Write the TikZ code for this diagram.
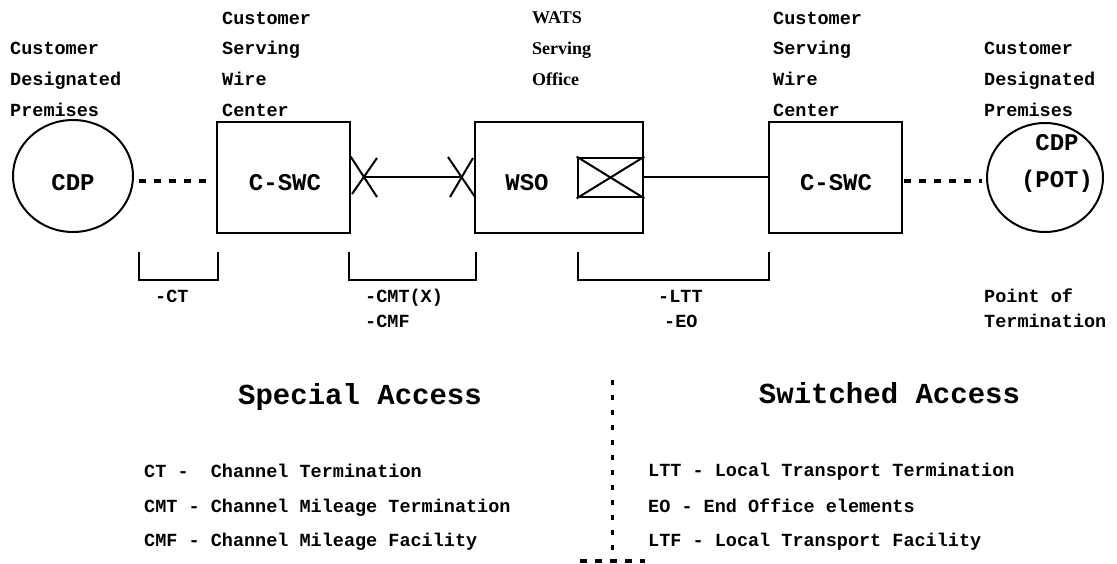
\documentclass[tikz,border=0pt]{standalone}
\usepackage{fontspec}
\newfontfamily\monof{Liberation Mono}
\newfontfamily\timesf{Liberation Serif}
\usetikzlibrary{shapes.geometric}
\begin{document}
\begin{tikzpicture}[x=1pt,y=-1pt,
  lbl/.style={font=\monof\bfseries\fontsize{18.5}{22}\selectfont, inner sep=0pt, anchor=base west},
  wats/.style={font=\timesf\bfseries\fontsize{18}{22}\selectfont, inner sep=0pt, anchor=base west},
  boxtxt/.style={font=\monof\bfseries\fontsize{24}{28}\selectfont, inner sep=0pt, anchor=base},
  head/.style={font=\monof\bfseries\fontsize{29}{34}\selectfont, inner sep=0pt, anchor=base},
  box/.style={draw, line width=2.7pt, minimum height=111pt, inner sep=0pt},
  cdp/.style={draw, ellipse, line width=2pt, inner sep=0pt},
  conn/.style={line width=2pt},
  xmark/.style={line width=2pt},
  dotline/.style={line width=3.5pt, dash pattern=on 7pt off 8pt},
  vdot/.style={line width=3pt, dash pattern=on 5pt off 10pt},
  brk/.style={line width=2.5pt}
]
\useasboundingbox (0,0) rectangle (1117,564);

% shapes
\node[cdp, minimum width=120pt, minimum height=112pt] (cdpL) at (73,176) {};
\node[box, minimum width=133pt] (swcL) at (283.5,177.5) {};
\node[box, minimum width=168pt] (wso) at (559,177.5) {};
\node[box, minimum width=133pt] (swcR) at (835.5,177.5) {};
\node[cdp, minimum width=116pt, minimum height=109pt] (cdpR) at (1045,177.5) {};
\node[draw, line width=2.7pt, minimum width=65pt, minimum height=39pt, inner sep=0pt] (xbox) at (610.5,177.5) {};

% texts in shapes
\node[boxtxt] (tcdpL) at (73,191) {CDP};
\node[boxtxt] (tswcL) at (285,191) {C-SWC};
\node[boxtxt] (twso) at (527,191) {WSO};
\node[boxtxt] (tswcR) at (836,191) {C-SWC};
\node[boxtxt] (tcdpR) at (1057,151) {CDP};
\node[boxtxt] (tpot) at (1057,188) {(POT)};

% crossed box
\draw[xmark] (xbox.north west) -- (xbox.south east);
\draw[xmark] (xbox.south west) -- (xbox.north east);

% X marks and connector
\coordinate (xl) at (364,177);
\coordinate (xr) at (462,177);
\draw[conn] (xl) -- (xr);
\draw[xmark] (350.7,156.7) -- (377,197);
\draw[xmark] (377,158) -- (352,194);
\draw[xmark] (448,157) -- (475,197);
\draw[xmark] (473,158) -- (450,197);

% connectors
\draw[conn] (xbox.east) -- (swcR.west);
\draw[dotline] ([xshift=5pt,yshift=-5pt]cdpL.east) -- ([xshift=-10pt,yshift=-3.5pt]swcL.west);
\draw[dotline] ([xshift=1pt,yshift=-3.5pt]swcR.east) -- ([xshift=-4pt,yshift=-3.5pt]cdpR.west);

% top labels
\node[lbl] (c1a) at (10,55) {Customer};
\node[lbl] (c1b) at (10,86) {Designated};
\node[lbl] (c1c) at (10,117) {Premises};
\node[lbl] (c2a) at (222,25) {Customer};
\node[lbl] (c2b) at (222,55) {Serving};
\node[lbl] (c2c) at (222,86) {Wire};
\node[lbl] (c2d) at (222,117) {Center};
\node[wats] (c3a) at (532,24) {WATS};
\node[wats] (c3b) at (532,55) {Serving};
\node[wats] (c3c) at (532,86) {Office};
\node[lbl] (c4a) at (773,25) {Customer};
\node[lbl] (c4b) at (773,55) {Serving};
\node[lbl] (c4c) at (773,86) {Wire};
\node[lbl] (c4d) at (773,117) {Center};
\node[lbl] (c5a) at (984,55) {Customer};
\node[lbl] (c5b) at (984,86) {Designated};
\node[lbl] (c5c) at (984,117) {Premises};

% brackets
\draw[brk] (139,252) -- (139,280) -- (218,280) -- (218,252);
\draw[brk] (349,252) -- (349,280) -- (476,280) -- (476,252);
\draw[brk] (578,252) -- (578,280) -- (769,280) -- (769,252);

% bracket labels
\node[lbl] (bct) at (155,302) {-CT};
\node[lbl] (bcmt) at (365,302) {-CMT(X)};
\node[lbl] (bcmf) at (365,327) {-CMF};
\node[lbl] (bltt) at (658,302) {-LTT};
\node[lbl] (beo) at (664,327) {-EO};
\node[lbl] (pot1) at (984,302) {Point of};
\node[lbl] (pot2) at (984,327) {Termination};

% headings
\node[head] (hsa) at (360,404) {Special Access};
\node[head] (hsw) at (889.5,403) {Switched Access};

% divider
\coordinate (dv1) at (612,380);
\coordinate (dv2) at (612,556);
\coordinate (dh1) at (580,561);
\coordinate (dh2) at (645,561);
\draw[vdot] (dv1) -- (dv2);
\draw[dotline] (dh1) -- (dh2);

% lists
\node[lbl] (l1) at (144,477) {CT -\ \ Channel Termination};
\node[lbl] (l2) at (144,512) {CMT - Channel Mileage Termination};
\node[lbl] (l3) at (144,546) {CMF - Channel Mileage Facility};
\node[lbl] (r1) at (648,476) {LTT - Local Transport Termination};
\node[lbl] (r2) at (648,512) {EO - End Office elements};
\node[lbl] (r3) at (648,546) {LTF - Local Transport Facility};
\end{tikzpicture}
\end{document}
